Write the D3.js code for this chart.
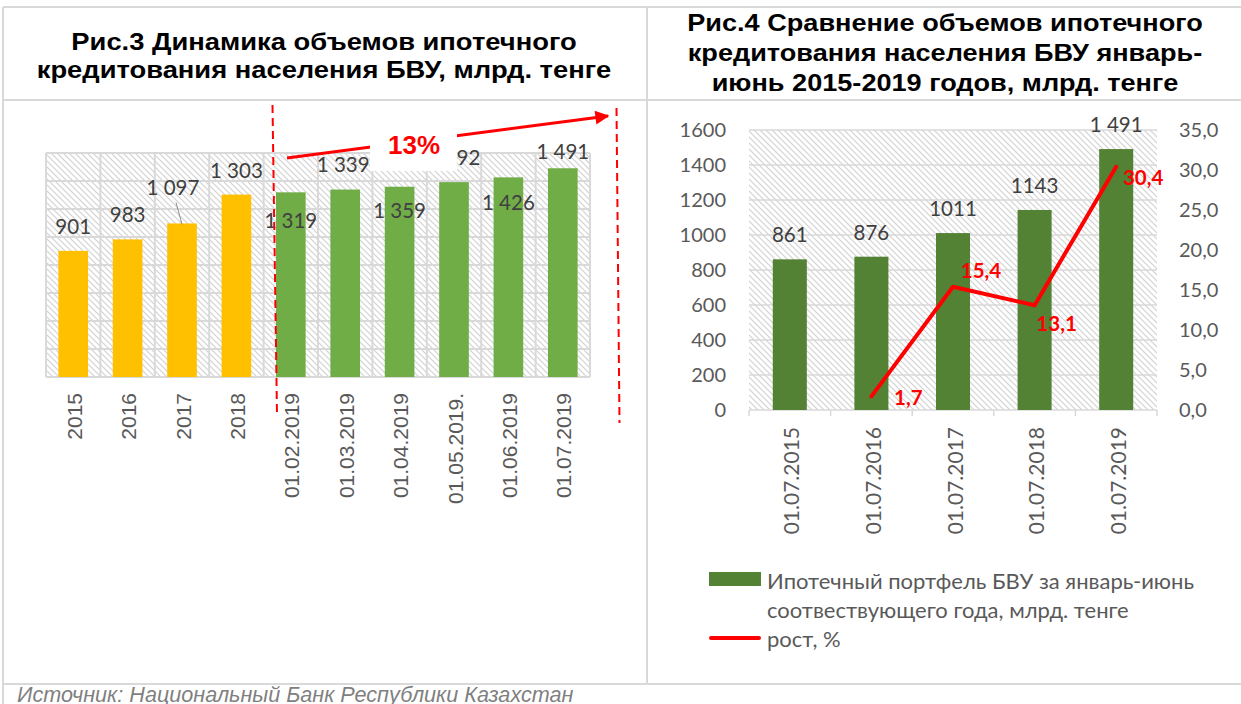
<!DOCTYPE html>
<html>
<head>
<meta charset="utf-8">
<script src="https://cdn.jsdelivr.net/npm/d3@7"></script>
<style>
  body { margin: 0; background: #fff; }
  svg text { font-family: Lato, "Open Sans", sans-serif; }
</style>
</head>
<body>
<svg id="chart" width="1241" height="704"></svg>
<script>
// ---- data ----
var leftCategories = ["2015", "2016", "2017", "2018", "01.02.2019", "01.03.2019",
                      "01.04.2019", "01.05.2019.", "01.06.2019", "01.07.2019"];
var leftValues = [901, 983, 1097, 1303, 1319, 1339, 1359, 1392, 1426, 1491];
var leftGroups = ["год", "год", "год", "год", "месяц", "месяц", "месяц", "месяц", "месяц", "месяц"];
var leftGridTicks = [0, 200, 400, 600, 800, 1000, 1200, 1400, 1600];

var rightCategories = ["01.07.2015", "01.07.2016", "01.07.2017", "01.07.2018", "01.07.2019"];
var rightValues = [861, 876, 1011, 1143, 1491];
var rightValueLabels = ["861", "876", "1011", "1143", "1 491"];
var growthValues = [null, 1.7, 15.4, 13.1, 30.4];
var rightTicks = [0, 200, 400, 600, 800, 1000, 1200, 1400, 1600];
var growthTicks = [0, 5, 10, 15, 20, 25, 30, 35];

var leftTitle = ["Рис.3 Динамика объемов ипотечного", "кредитования населения БВУ, млрд. тенге"];
var rightTitle = ["Рис.4 Сравнение объемов ипотечного", "кредитования населения БВУ январь-",
                  "июнь 2015-2019 годов, млрд. тенге"];
var legendBar = ["Ипотечный портфель БВУ за январь-июнь", "соотвествующего года, млрд. тенге"];
var legendLine = "рост, %";
var growthNote = "13%";
var sourceNote = "Источник: Национальный Банк Республики Казахстан";

// label nudges (Excel labels were moved by hand)
var leftLabelDx = [0, 0, -9, 0, 0, -2, 0, 0, 0, 0];
var leftLabelDy = [-25, -25, -36, -25, 28, -26, 23, -25, 25, -17];
var growthLabelDx = [0, 37, 28, 22, 27];
var growthLabelDy = [0, 1, -17, 18, 10];

var ru = d3.formatLocale({ decimal: ",", thousands: " ", grouping: [3], currency: ["", ""] });
var fmtThousands = ru.format(",");
var fmtOne = ru.format(".1f");

var gridColor = "#d9d9d9";
var svg = d3.select("#chart");

// hatch pattern for plot areas
var defs = svg.append("defs");
var pat = defs.append("pattern")
    .attr("id", "hatch")
    .attr("patternUnits", "userSpaceOnUse")
    .attr("width", 6).attr("height", 6);
pat.append("rect").attr("width", 6).attr("height", 6).attr("fill", "#fff");
pat.append("path")
    .attr("d", "M0,0 L6,6 M-1,5 L1,7 M5,-1 L7,1")
    .attr("stroke", "#d2d2d2").attr("stroke-width", 1.2);

defs.append("marker")
    .attr("id", "arrowHead")
    .attr("viewBox", "0 0 10 10")
    .attr("refX", 9).attr("refY", 5)
    .attr("markerUnits", "userSpaceOnUse")
    .attr("markerWidth", 16).attr("markerHeight", 14)
    .attr("orient", "auto")
    .append("path").attr("d", "M0,0 L10,5 L0,10 Z").attr("fill", "#ff0000");

// ---- frame lines ----
var frame = svg.append("g").attr("stroke", gridColor).attr("stroke-width", 2);
frame.append("line").attr("x1", 3).attr("x2", 1241).attr("y1", 7).attr("y2", 7);
frame.append("line").attr("x1", 3).attr("x2", 1241).attr("y1", 100).attr("y2", 100);
frame.append("line").attr("x1", 3).attr("x2", 1241).attr("y1", 684).attr("y2", 684);
frame.append("line").attr("x1", 3).attr("x2", 3).attr("y1", 7).attr("y2", 704);
frame.append("line").attr("x1", 647).attr("x2", 647).attr("y1", 7).attr("y2", 684);

// ---- titles (source picture is slightly stretched sideways) ----
svg.selectAll("text.ltitle")
   .data(leftTitle)
   .enter().append("text")
   .attr("class", "ltitle")
   .attr("transform", (d, i) => `translate(324, ${50 + i * 28}) scale(1.14, 1)`)
   .attr("text-anchor", "middle")
   .style("font-family", "'Liberation Sans', Arial, sans-serif")
   .style("font-weight", "bold")
   .style("font-size", "24px")
   .text(d => d);

svg.selectAll("text.rtitle")
   .data(rightTitle)
   .enter().append("text")
   .attr("class", "rtitle")
   .attr("transform", (d, i) => `translate(945, ${31 + i * 30}) scale(1.13, 1)`)
   .attr("text-anchor", "middle")
   .style("font-family", "'Liberation Sans', Arial, sans-serif")
   .style("font-weight", "bold")
   .style("font-size", "24px")
   .text(d => d);

// ================= left chart =================
var xL = d3.scaleBand().domain(leftCategories).range([46, 590]);
var yL = d3.scaleLinear().domain([0, 1600]).range([377, 153]);
var colorL = d3.scaleOrdinal().domain(["год", "месяц"]).range(["#ffc000", "#70ad47"]);

var gL = svg.append("g");
gL.append("rect")
  .attr("x", xL.range()[0]).attr("y", yL(1600))
  .attr("width", xL.range()[1] - xL.range()[0])
  .attr("height", yL(0) - yL(1600))
  .attr("fill", "url(#hatch)");

gL.selectAll("line.hgrid")
  .data(leftGridTicks)
  .enter().append("line")
  .attr("x1", xL.range()[0]).attr("x2", xL.range()[1])
  .attr("y1", d => yL(d)).attr("y2", d => yL(d))
  .attr("stroke", gridColor).attr("stroke-width", 2);

gL.selectAll("line.vgrid")
  .data(leftCategories.concat(["end"]))
  .enter().append("line")
  .attr("x1", (d, i) => xL.range()[0] + i * xL.step())
  .attr("x2", (d, i) => xL.range()[0] + i * xL.step())
  .attr("y1", yL(1600)).attr("y2", yL(0))
  .attr("stroke", gridColor).attr("stroke-width", 2);

var barWL = xL.bandwidth() * 0.545;
gL.selectAll("rect.bar")
  .data(leftValues)
  .enter().append("rect")
  .attr("x", (d, i) => xL(leftCategories[i]) + (xL.bandwidth() - barWL) / 2)
  .attr("y", d => yL(d))
  .attr("width", barWL)
  .attr("height", d => yL(0) - yL(d))
  .attr("fill", (d, i) => colorL(leftGroups[i]));

// leader line for the moved "1 097" label
gL.append("line")
  .attr("x1", xL(leftCategories[2]) + xL.bandwidth() / 2 - 6)
  .attr("y1", yL(leftValues[2]) - 21)
  .attr("x2", xL(leftCategories[2]) + xL.bandwidth() / 2)
  .attr("y2", yL(leftValues[2]) + 1)
  .attr("stroke", "#8c8c8c").attr("stroke-width", 1);

gL.selectAll("text.val")
  .data(leftValues)
  .enter().append("text")
  .attr("x", (d, i) => xL(leftCategories[i]) + xL.bandwidth() / 2 + leftLabelDx[i])
  .attr("y", (d, i) => yL(d) + leftLabelDy[i])
  .attr("text-anchor", "middle")
  .attr("dominant-baseline", "central")
  .attr("fill", "#404040")
  .style("font-size", "20.5px")
  .text(d => fmtThousands(d));

gL.selectAll("text.cat")
  .data(leftCategories)
  .enter().append("text")
  .attr("transform", d => `translate(${xL(d) + xL.bandwidth() / 2 + 1}, 393) rotate(-90)`)
  .attr("text-anchor", "end")
  .attr("dominant-baseline", "central")
  .attr("fill", "#595959")
  .style("font-family", "'Liberation Sans', Arial, sans-serif")
  .style("font-size", "21px")
  .text(d => d);

// red dashed separators and growth arrow
gL.append("line")
  .attr("x1", 272.5).attr("y1", 105).attr("x2", 277).attr("y2", 415)
  .attr("stroke", "#ff0000").attr("stroke-width", 2).attr("stroke-dasharray", "8,5");
gL.append("line")
  .attr("x1", 616.5).attr("y1", 108).attr("x2", 619.5).attr("y2", 423)
  .attr("stroke", "#ff0000").attr("stroke-width", 2).attr("stroke-dasharray", "8,5");
gL.append("line")
  .attr("x1", 287).attr("y1", 158).attr("x2", 608).attr("y2", 116)
  .attr("stroke", "#ff0000").attr("stroke-width", 3)
  .attr("marker-end", "url(#arrowHead)");
gL.append("rect")
  .attr("x", 370).attr("y", 124).attr("width", 87).attr("height", 47)
  .attr("fill", "#fff");
gL.append("text")
  .attr("x", 414).attr("y", 145)
  .attr("text-anchor", "middle")
  .attr("dominant-baseline", "central")
  .attr("fill", "#ff0000")
  .style("font-family", "'Liberation Sans', Arial, sans-serif")
  .style("font-weight", "bold")
  .style("font-size", "26px")
  .text(growthNote);

// ================= right chart =================
var xR = d3.scaleBand().domain(rightCategories).range([749, 1157]);
var yR = d3.scaleLinear().domain([0, 1600]).range([410, 130]);
var yR2 = d3.scaleLinear().domain([0, 35]).range([410, 130]);

var gR = svg.append("g");
gR.append("rect")
  .attr("x", 749).attr("y", yR(1600))
  .attr("width", 1157 - 749).attr("height", yR(0) - yR(1600))
  .attr("fill", "url(#hatch)");

gR.selectAll("line.hgrid")
  .data(rightTicks)
  .enter().append("line")
  .attr("x1", 749).attr("x2", 1157)
  .attr("y1", d => yR(d)).attr("y2", d => yR(d))
  .attr("stroke", gridColor).attr("stroke-width", 1.5);

// category axis ticks between bands
gR.selectAll("line.xtick")
  .data(rightCategories.concat(["end"]))
  .enter().append("line")
  .attr("x1", (d, i) => 749 + i * xR.step())
  .attr("x2", (d, i) => 749 + i * xR.step())
  .attr("y1", yR(0)).attr("y2", yR(0) + 6)
  .attr("stroke", gridColor).attr("stroke-width", 1.5);

var axL = gR.append("g")
  .attr("transform", "translate(749,0)")
  .call(d3.axisLeft(yR).tickValues(rightTicks).tickSize(0).tickPadding(23).tickFormat(d3.format("d")));
axL.select(".domain").remove();
axL.selectAll("text").attr("fill", "#595959")
   .style("font-family", "Lato, sans-serif").style("font-size", "20px");

var axR = gR.append("g")
  .attr("transform", "translate(1157,0)")
  .call(d3.axisRight(yR2).tickValues(growthTicks).tickSize(0).tickPadding(22).tickFormat(fmtOne));
axR.select(".domain").remove();
axR.selectAll("text").attr("fill", "#595959")
   .style("font-family", "Lato, sans-serif").style("font-size", "20px");

var barWR = xR.bandwidth() * 0.417;
gR.selectAll("rect.bar")
  .data(rightValues)
  .enter().append("rect")
  .attr("x", (d, i) => xR(rightCategories[i]) + (xR.bandwidth() - barWR) / 2)
  .attr("y", d => yR(d))
  .attr("width", barWR)
  .attr("height", d => yR(0) - yR(d))
  .attr("fill", "#548235");

gR.selectAll("text.val")
  .data(rightValues)
  .enter().append("text")
  .attr("x", (d, i) => xR(rightCategories[i]) + xR.bandwidth() / 2)
  .attr("y", d => yR(d) - 25)
  .attr("text-anchor", "middle")
  .attr("dominant-baseline", "central")
  .attr("fill", "#404040")
  .style("font-size", "20.5px")
  .text((d, i) => rightValueLabels[i]);

var growthLine = d3.line()
  .defined(d => d != null)
  .x((d, i) => xR(rightCategories[i]) + xR.bandwidth() / 2)
  .y(d => yR2(d));

gR.append("path")
  .attr("d", growthLine(growthValues))
  .attr("fill", "none")
  .attr("stroke", "#ff0000")
  .attr("stroke-width", 4)
  .attr("stroke-linejoin", "round")
  .attr("stroke-linecap", "round");

var growthPoints = growthValues
  .map((v, i) => ({ v: v, i: i }))
  .filter(d => d.v != null);

gR.selectAll("text.growth")
  .data(growthPoints)
  .enter().append("text")
  .attr("x", d => xR(rightCategories[d.i]) + xR.bandwidth() / 2 + growthLabelDx[d.i])
  .attr("y", d => yR2(d.v) + growthLabelDy[d.i])
  .attr("text-anchor", "middle")
  .attr("dominant-baseline", "central")
  .attr("fill", "#ff0000")
  .style("font-weight", "bold")
  .style("font-size", "20.5px")
  .text(d => fmtOne(d.v));

gR.selectAll("text.cat")
  .data(rightCategories)
  .enter().append("text")
  .attr("transform", d => `translate(${xR(d) + xR.bandwidth() / 2 + 1}, 427) rotate(-90)`)
  .attr("text-anchor", "end")
  .attr("dominant-baseline", "central")
  .attr("fill", "#595959")
  .style("font-size", "21px")
  .text(d => d);

// legend
var leg = svg.append("g");
leg.append("rect")
   .attr("x", 709).attr("y", 572).attr("width", 52).attr("height", 14)
   .attr("fill", "#548235");
leg.append("line")
   .attr("x1", 711).attr("x2", 759).attr("y1", 638).attr("y2", 638)
   .attr("stroke", "#ff0000").attr("stroke-width", 4).attr("stroke-linecap", "round");
leg.selectAll("text.lb")
   .data(legendBar.concat([legendLine]))
   .enter().append("text")
   .attr("x", 767)
   .attr("y", (d, i) => 580 + i * 29)
   .attr("dominant-baseline", "central")
   .attr("fill", "#595959")
   .style("font-size", "22px")
   .text(d => d);

// source note
svg.append("text")
   .attr("x", 17).attr("y", 702)
   .attr("fill", "#7f7f7f")
   .style("font-family", "'Liberation Sans', Arial, sans-serif")
   .style("font-style", "italic")
   .style("font-size", "21.6px")
   .text(sourceNote);
</script>
</body>
</html>
